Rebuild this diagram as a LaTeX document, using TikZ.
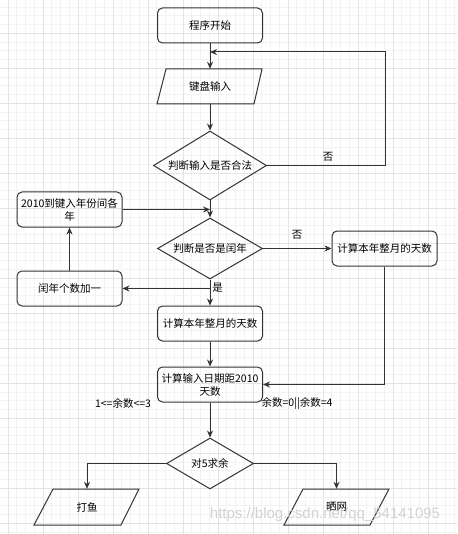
\documentclass[tikz,border=0pt]{standalone}
\usepackage{fontspec}
\setmainfont{Noto Sans CJK SC}
\newfontfamily\wmfont{Liberation Sans}
\usetikzlibrary{shapes.geometric,arrows.meta}
\definecolor{lineclr}{HTML}{333333}
\definecolor{minorgrid}{HTML}{F3F3F3}
\definecolor{majorgrid}{HTML}{E4E4E4}
\tikzset{
  box/.style={draw=lineclr, line width=1pt, rounded corners=5pt, minimum width=105pt, minimum height=35pt, inner sep=1pt, align=center, font=\fontsize{10.5}{13}\selectfont},
  iobox/.style={minimum width=96pt, minimum height=35pt, inner sep=0pt, font=\fontsize{10.5}{13}\selectfont},
  dec/.style={draw=lineclr, line width=1pt, diamond, inner sep=0pt, font=\fontsize{10.5}{13}\selectfont},
  para/.style={draw=lineclr, line width=1pt},
  arr/.style={draw=lineclr, line width=1pt, -{Stealth[length=7pt,width=6pt]}},
  lbl/.style={font=\fontsize{10.5}{13}\selectfont, inner sep=0pt},
  minorline/.style={draw=minorgrid, line width=0.8pt},
  majorline/.style={draw=majorgrid, line width=1pt}
}
\begin{document}
\begin{tikzpicture}[x=1pt,y=-1pt]
\useasboundingbox (0,0) rectangle (457,534);
\fill[white] (0,0) rectangle (457,534);
% grid
\begin{scope}
\clip (0,0) rectangle (457,534);
\foreach \k in {-1,...,52} { \draw[minorline] ({8+8.75*\k},0) -- ({8+8.75*\k},534); }
\foreach \k in {-4,...,58} { \draw[minorline] (0,{33.3+8.75*\k}) -- (457,{33.3+8.75*\k}); }
\foreach \k in {0,...,13} { \draw[majorline] ({8+35*\k},0) -- ({8+35*\k},534); }
\foreach \k in {-1,...,15} { \draw[majorline] (0,{33.3+35*\k}) -- (457,{33.3+35*\k}); }
\end{scope}

% nodes
\node[box] (start) at (210,25.5) {程序开始};
\node[iobox] (input) at (210,86.5) {键盘输入};
\draw[para] (166,69) -- (262,69) -- (254,104) -- (157,104) -- cycle;
\node[dec, aspect=1.64, minimum width=113pt, minimum height=69pt] (d1) at (210,165.5) {判断输入是否合法};
\node[dec, aspect=1.72, minimum width=105pt, minimum height=61pt] (d2) at (210,248.5) {判断是否是闰年};
\node[box] (yr) at (69.5,209.5) {2010到键入年份间各\\年};
\node[box] (add) at (69.5,288.5) {闰年个数加一};
\node[box] (calcR) at (384.5,248.5) {计算本年整月的天数};
\node[box] (calcM) at (210,323.5) {计算本年整月的天数};
\node[box] (days) at (210,384.5) {计算输入日期距2010\\天数};
\node[dec, aspect=1.7, minimum width=87pt, minimum height=51pt] (d3) at (210,463.5) {对5求余};
\node[iobox, minimum width=86pt, minimum height=36pt] (fish) at (87,507) {打鱼};
\draw[para] (53,489) -- (139,489) -- (121,525) -- (34,525) -- cycle;
\node[iobox, minimum width=86pt, minimum height=36pt] (net) at (336.5,507) {晒网};
\draw[para] (303,489) -- (389,489) -- (370,525) -- (284,525) -- cycle;

% junction points
\coordinate (j1) at (210,52);
\coordinate (j2) at (210,209.5);
\coordinate (j3) at (210,288.5);

% connectors
\draw[arr] (start.south) -- (input.north);
\draw[arr] (input.south) -- (d1.north);
\draw[arr] (d1.east) -- (385,165.5) |- (j1);
\node[lbl] (no1) at (328,157) {否};
\draw[arr] (d1.south) -- (d2.north);
\draw[arr] (yr.east) -- (j2);
\draw[arr] (d2.east) -- (calcR.west);
\node[lbl] (no2) at (297,235) {否};
\draw[arr] (d2.south) -- (calcM.north);
\draw[arr] (j3) -- (add.east);
\node[lbl] (yes) at (217.5,288) {是};
\draw[arr] (add.north) -- (yr.south);
\draw[arr] (calcM.south) -- (days.north);
\draw[arr] (calcR.south) |- (days.east);
\node[lbl] (r1) at (123,403) {1<=余数<=3};
\node[lbl] (r2) at (297,403) {余数=0||余数=4};
\draw[arr] (days.south) -- (d3.north);
\draw[arr] (d3.west) -| (fish.north);
\draw[arr] (d3.east) -| (net.north);

% watermark
\node[text=gray!35, font=\wmfont\fontsize{15}{15}\selectfont, inner sep=0pt] (wm) at (325,515) {https://blog.csdn.net/qq\_54141095};
\end{tikzpicture}
\end{document}
